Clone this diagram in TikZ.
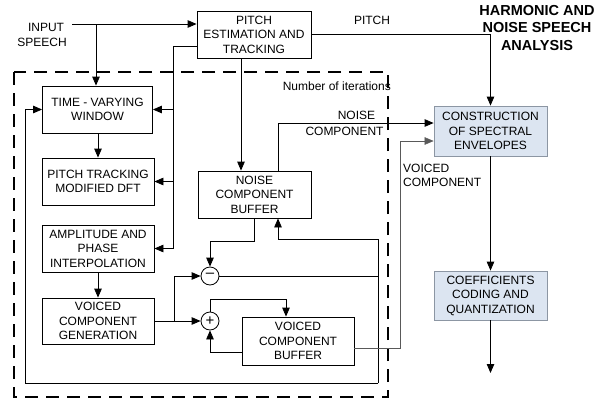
\documentclass[tikz,border=0pt]{standalone}
\usepackage{fontspec}
\setmainfont{Liberation Sans}
\usetikzlibrary{arrows.meta}
\definecolor{lblue}{HTML}{DCE5F1}
\definecolor{lgray}{HTML}{8C96A3}
\begin{document}
\begin{tikzpicture}[x=1pt,y=-1pt,
  every node/.style={font=\fontsize{12}{14.5}\selectfont},
  box/.style={draw, line width=0.8pt, inner sep=0pt, align=center},
  bluebox/.style={box, draw=lgray, fill=lblue},
  sumnode/.style={draw, line width=0.8pt, circle, inner sep=0pt, minimum size=18pt, font=\fontsize{15}{15}\selectfont},
  ln/.style={line width=0.8pt},
  arr/.style={ln, -{Triangle[length=9pt,width=7.5pt]}},
  lbl/.style={inner sep=0pt, align=left}
]
\useasboundingbox (0,0) rectangle (598,402);

% dashed iteration frame
\draw[line width=2pt, dash pattern=on 13pt off 8pt] (14,72) rectangle (388,397);
\node[lbl, anchor=east] (iter) at (391,86) {Number of iterations};

% title
\node[align=center, font=\fontsize{14.5}{17.5}\selectfont\bfseries] (title) at (537,28) {HARMONIC AND\\NOISE SPEECH\\ANALYSIS};

% boxes
\node[box, minimum width=114pt, minimum height=47pt] (pitch) at (254,34.5) {PITCH\\ESTIMATION AND\\TRACKING};
\node[box, minimum width=110pt, minimum height=47pt] (tvw) at (97.5,109.5) {TIME - VARYING\\WINDOW};
\node[box, minimum width=112pt, minimum height=47pt] (dft) at (98,181.5) {PITCH TRACKING\\MODIFIED DFT};
\node[box, minimum width=112pt, minimum height=47pt] (amp) at (98,248.5) {AMPLITUDE AND\\PHASE\\INTERPOLATION};
\node[box, minimum width=112pt, minimum height=46pt] (vcg) at (98,321) {VOICED\\COMPONENT\\GENERATION};
\node[box, minimum width=113pt, minimum height=47pt] (nbuf) at (254.5,194.5) {NOISE\\COMPONENT\\BUFFER};
\node[box, minimum width=112pt, minimum height=48pt] (vbuf) at (298,341) {VOICED\\COMPONENT\\BUFFER};
\node[bluebox, minimum width=113pt, minimum height=50pt] (cons) at (490.5,131) {CONSTRUCTION\\OF SPECTRAL\\ENVELOPES};
\node[bluebox, minimum width=113pt, minimum height=49pt] (coef) at (490.5,295.5) {COEFFICIENTS\\CODING AND\\QUANTIZATION};
\node[sumnode] (minus) at (210,276) {\raisebox{0.5pt}{–}};
\node[sumnode] (plus) at (210,321) {+};

% input speech
\node[lbl] (inlbl1) at (46,27) {INPUT};
\node[lbl] (inlbl2) at (42,42) {SPEECH};
\coordinate (inS) at (72,24);
\coordinate (br) at (96,24);
\draw[arr] (inS) -- (inS -| pitch.west);
\draw[arr] (br) -- (br |- tvw.north);

% pitch to construction
\draw[arr] (pitch.east) -| (cons.north);
\node[lbl] (plbl) at (372,20) {PITCH};

% pitch bus to left column
\coordinate (pb) at (173,46);
\draw[ln] (pitch.west |- pb) -- (pb) -- (pb |- amp.east);
\draw[arr] (pb |- tvw.east) -- (tvw.east);
\draw[arr] (pb |- dft.east) -- (dft.east);
\draw[arr] (pb |- amp.east) -- (amp.east);

% left column flow
\draw[arr] (tvw.south -| dft.north) -- (dft.north);
\draw[arr] (amp.south) -- (vcg.north);

% pitch to noise buffer
\coordinate (pd) at (241,0);
\draw[arr] (pitch.south -| pd) -- (nbuf.north -| pd);

% noise component to construction
\coordinate (nc) at (278,123);
\draw[arr] (nbuf.north -| nc) -- (nc) -- (nc -| cons.west);
\node[lbl] (nlbl1) at (356.5,115) {NOISE};
\node[lbl] (nlbl2) at (344.5,131) {COMPONENT};

% noise buffer to minus
\coordinate (nb) at (254,241);
\draw[arr] (nbuf.south -| nb) -- (nb) -| (minus.north);

% feedback loop
\coordinate (lr) at (378,239);
\coordinate (lb) at (378,383);
\coordinate (ll) at (25,383);
\draw[ln] (minus.east) -- (minus.east -| lr);
\draw[arr] (lb) -- (lr) -- (lr -| nc) -- (nbuf.south -| nc);
\draw[arr] (lb) -- (ll) -- (ll |- tvw.west) -- (tvw.west);

% voiced generation to sums
\coordinate (vb) at (174,321);
\draw[arr] (vcg.east) -- (plus.west);
\draw[arr] (vb) |- (minus.west);

% plus loop with voiced buffer
\coordinate (pt) at (286,299);
\draw[arr] (plus.north) |- (pt) -- (pt |- vbuf.north);
\coordinate (vw) at (0,352);
\draw[arr] (vbuf.west |- vw) -| (plus.south);

% voiced component to construction
\coordinate (ve) at (0,348);
\coordinate (vc) at (400,141);
\draw[line width=0.5pt, draw=gray!70!black, -{Triangle[length=9pt,width=7.5pt]}] (vbuf.east |- ve) -| (vc) -- (vc -| cons.west);
\node[lbl, anchor=west] (vlbl) at (403,175.5) {VOICED\\COMPONENT};

% output chain
\draw[arr] (cons.south) -- (coef.north);
\coordinate (out) at (490.5,373);
\draw[arr] (coef.south) -- (out);
\end{tikzpicture}
\end{document}
